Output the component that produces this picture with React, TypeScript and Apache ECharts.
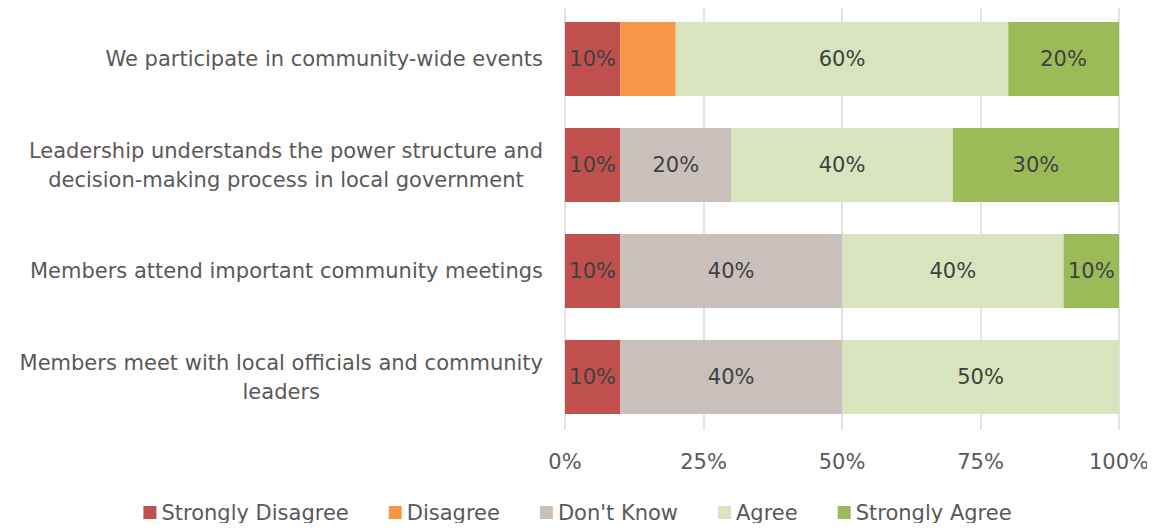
import React, { useEffect, useRef } from "react";
import * as echarts from "echarts";

const categories = [
  "We participate in community-wide events",
  "Leadership understands the power structure and\ndecision-making process in local government",
  "Members attend important community meetings",
  "Members meet with local officials and community\nleaders",
];
const seriesNames = ["Strongly Disagree", "Disagree", "Don't Know", "Agree", "Strongly Agree"];
const stronglyDisagree = [10, 10, 10, 10];
const disagree = [10, 0, 0, 0];
const dontKnow = [0, 20, 40, 40];
const agree = [60, 40, 40, 50];
const stronglyAgree = [20, 30, 10, 0];
const showLabels = [true, false, true, true, true];
const colors = ["#C0504D", "#F79646", "#C9C0BB", "#D7E4BD", "#9BBB59"];
const xTicks = [0, 25, 50, 75, 100];

const FONT = "DejaVu Sans";
const FS = 21;

export default function App() {
  const ref = useRef<HTMLDivElement>(null);
  useEffect(() => {
    if (!ref.current) return;
    const chart = echarts.init(ref.current, null, { renderer: "svg" });
    const values = [stronglyDisagree, disagree, dontKnow, agree, stronglyAgree];
    const cats = [...categories].reverse();
    chart.setOption({
      animation: false,
      textStyle: { fontFamily: FONT },
      grid: { left: 565, right: 36, top: 6, bottom: 101 },
      xAxis: {
        type: "value",
        min: xTicks[0],
        max: xTicks[xTicks.length - 1],
        interval: 25,
        axisLine: { show: false },
        axisTick: { show: false },
        splitLine: { lineStyle: { color: "#D9D9D9", width: 1.5 } },
        axisLabel: {
          formatter: (v: number) => v + "%",
          color: "#595959",
          fontSize: FS,
          fontFamily: FONT,
          margin: 21,
        },
      },
      yAxis: {
        type: "category",
        data: cats,
        axisLine: { show: false },
        axisTick: { show: false },
        axisLabel: {
          color: "#595959",
          fontSize: FS,
          fontFamily: FONT,
          margin: 22,
          lineHeight: 29,
          formatter: (v: string) =>
            v
              .split("\n")
              .map((l) => "{c|" + l + "}")
              .join("\n"),
          rich: {
            c: { align: "center", color: "#595959", fontSize: FS, fontFamily: FONT, lineHeight: 29 },
          },
        },
      },
      legend: {
        bottom: 3,
        left: "center",
        itemWidth: 13,
        itemHeight: 13,
        itemGap: 40,
        icon: "rect",
        textStyle: { color: "#595959", fontSize: FS, fontFamily: FONT },
        data: seriesNames,
      },
      series: seriesNames.map((name, i) => ({
        name,
        type: "bar",
        stack: "total",
        barWidth: "70%",
        data: [...values[i]].reverse(),
        itemStyle: { color: colors[i] },
        label: {
          show: showLabels[i],
          position: "inside",
          color: "#404040",
          fontSize: FS,
          fontFamily: FONT,
          formatter: (p: any) => (p.value > 0 ? p.value + "%" : ""),
        },
      })),
    });
    return () => chart.dispose();
  }, []);
  return <div ref={ref} style={{ width: 1155, height: 531, margin: -8 }} />;
}
